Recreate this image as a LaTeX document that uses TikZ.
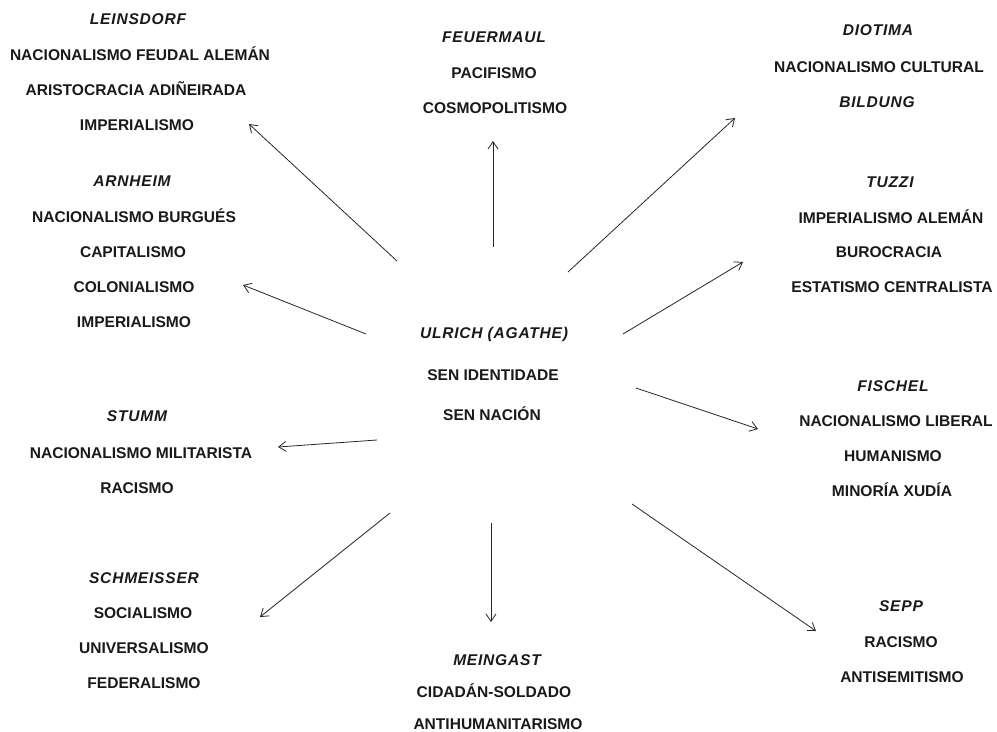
\documentclass[tikz,border=0pt]{standalone}
\usepackage{fontspec}
\setmainfont{Liberation Sans}
\usetikzlibrary{arrows.meta}
\begin{document}
\begin{tikzpicture}[x=0.75pt,y=-0.75pt,
  txt/.style={anchor=base,inner sep=0pt,yshift=-4.1pt,text=black!90,
    font=\bfseries\fontsize{11.66}{14}\selectfont},
  nm/.style={txt,font=\bfseries\itshape\fontsize{11.66}{14}\selectfont\addfontfeatures{LetterSpace=5}},
  arr/.style={draw=black!85,line width=0.6pt,-{Straight Barb[length=5.5pt,width=7.5pt,line width=0.6pt]}}]
\useasboundingbox (0,0) rectangle (997,732);
% Leinsdorf
\node[nm]  (lei)  at (138,19)  {LEINSDORF};
\node[txt] (lei1) at (140,55)  {NACIONALISMO FEUDAL ALEMÁN};
\node[txt] (lei2) at (136,90)  {ARISTOCRACIA ADIÑEIRADA};
\node[txt] (lei3) at (137,125) {IMPERIALISMO};
% Feuermaul
\node[nm]  (feu)  at (494,37)  {FEUERMAUL};
\node[txt] (feu1) at (494,73)  {PACIFISMO};
\node[txt] (feu2) at (495,108) {COSMOPOLITISMO};
% Diotima
\node[nm]  (dio)  at (878,30)  {DIOTIMA};
\node[txt] (dio1) at (879,67)  {NACIONALISMO CULTURAL};
\node[nm]  (dio2) at (877,102) {BILDUNG};
% Arnheim
\node[nm]  (arn)  at (132,181) {ARNHEIM};
\node[txt] (arn1) at (134,217) {NACIONALISMO BURGUÉS};
\node[txt] (arn2) at (133,252) {CAPITALISMO};
\node[txt] (arn3) at (134,287) {COLONIALISMO};
\node[txt] (arn4) at (134,322) {IMPERIALISMO};
% Tuzzi
\node[nm]  (tuz)  at (890,182) {TUZZI};
\node[txt] (tuz1) at (891,218) {IMPERIALISMO ALEMÁN};
\node[txt] (tuz2) at (889,252) {BUROCRACIA};
\node[txt] (tuz3) at (892,287) {ESTATISMO CENTRALISTA};
% Ulrich
\node[nm]  (ulr)  at (494,333) {ULRICH (AGATHE)};
\node[txt] (ulr1) at (493,375) {SEN IDENTIDADE};
\node[txt] (ulr2) at (492,415) {SEN NACIÓN};
% Fischel
\node[nm]  (fis)  at (893,386) {FISCHEL};
\node[txt] (fis1) at (896,421) {NACIONALISMO LIBERAL};
\node[txt] (fis2) at (893,456) {HUMANISMO};
\node[txt] (fis3) at (892,491) {MINORÍA XUDÍA};
% Stumm
\node[nm]  (stu)  at (137,416) {STUMM};
\node[txt] (stu1) at (141,453) {NACIONALISMO MILITARISTA};
\node[txt] (stu2) at (137,488) {RACISMO};
% Schmeisser
\node[nm]  (sch)  at (144,578) {SCHMEISSER};
\node[txt] (sch1) at (143,613) {SOCIALISMO};
\node[txt] (sch2) at (144,648) {UNIVERSALISMO};
\node[txt] (sch3) at (144,683) {FEDERALISMO};
% Sepp
\node[nm]  (sep)  at (901,606) {SEPP};
\node[txt] (sep1) at (901,642) {RACISMO};
\node[txt] (sep2) at (902,677) {ANTISEMITISMO};
% Meingast
\node[nm]  (mei)  at (497,660) {MEINGAST};
\node[txt] (mei1) at (494,692) {CIDADÁN-SOLDADO};
\node[txt] (mei2) at (498,724) {ANTIHUMANITARISMO};
% arrow end points
\coordinate (sL) at (397,261); \coordinate (eL) at (249,124);
\coordinate (sF) at (493,247); \coordinate (eF) at (493,141);
\coordinate (sD) at (568,272); \coordinate (eD) at (735,118);
\coordinate (sT) at (623,334); \coordinate (eT) at (743,262);
\coordinate (sA) at (366,334); \coordinate (eA) at (243,285);
\coordinate (sI) at (636,388); \coordinate (eI) at (758,429);
\coordinate (sS) at (377,440); \coordinate (eS) at (278,447);
\coordinate (sC) at (390,513); \coordinate (eC) at (260,617);
\coordinate (sM) at (491,523); \coordinate (eM) at (491,622);
\coordinate (sP) at (632,504); \coordinate (eP) at (816,631);
\foreach \a in {L,F,D,T,A,I,S,C,M,P} \draw[arr] (s\a) -- (e\a);
\end{tikzpicture}
\end{document}
